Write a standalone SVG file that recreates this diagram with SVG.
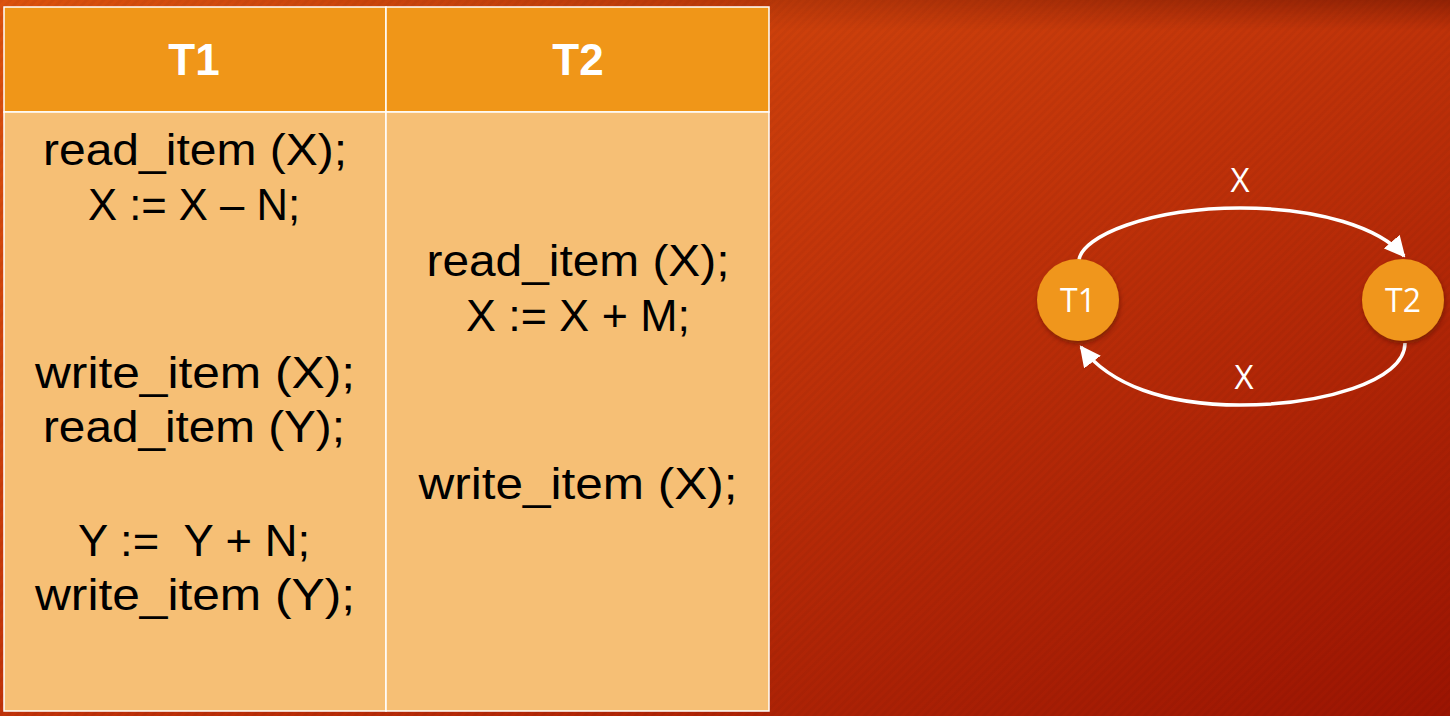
<svg xmlns="http://www.w3.org/2000/svg" width="1450" height="716" viewBox="0 0 1450 716">
  <defs>
    <linearGradient id="bg" x1="0" y1="0" x2="1" y2="1">
      <stop offset="0" stop-color="#dc520e"/>
      <stop offset="0.45" stop-color="#c4360a"/>
      <stop offset="1" stop-color="#9c1402"/>
    </linearGradient>
    <linearGradient id="topShade" x1="0" y1="0" x2="0" y2="1">
      <stop offset="0" stop-color="#5a0e00" stop-opacity="0.45"/>
      <stop offset="1" stop-color="#5a0e00" stop-opacity="0"/>
    </linearGradient>
    <linearGradient id="topShadeX" x1="0" y1="0" x2="1" y2="0">
      <stop offset="0" stop-color="#fff" stop-opacity="0"/>
      <stop offset="0.6" stop-color="#fff" stop-opacity="0.5"/>
      <stop offset="1" stop-color="#fff" stop-opacity="1"/>
    </linearGradient>
    <mask id="shadeMask">
      <rect x="0" y="0" width="1450" height="30" fill="url(#topShadeX)"/>
    </mask>
    <pattern id="stripes" width="6" height="6" patternUnits="userSpaceOnUse" patternTransform="rotate(-45)">
      <rect width="6" height="3" fill="#000" fill-opacity="0.03"/>
    </pattern>
    <marker id="arrow" viewBox="0 0 10 10" refX="9" refY="5" markerWidth="6" markerHeight="6" orient="auto" markerUnits="strokeWidth">
      <path d="M0,0 L10,5 L0,10 z" fill="#ffffff"/>
    </marker>
    <filter id="shadow" x="-30%" y="-30%" width="160%" height="160%">
      <feDropShadow dx="1" dy="3" stdDeviation="2.5" flood-color="#4a0800" flood-opacity="0.5"/>
    </filter>
    <style>
      .cell-head { fill: #f09618; stroke: #ffffff; stroke-width: 1.5; }
      .cell-body { fill: #f6bf75; stroke: #ffffff; stroke-width: 1.5; }
      .head { font-family: "Liberation Sans Narrow", "Liberation Sans", Arial, sans-serif; font-weight: bold; font-size: 44px; fill: #ffffff; text-anchor: middle; }
      .code { font-family: "Liberation Sans", Arial, sans-serif; font-size: 45px; fill: #000000; text-anchor: middle; }
      .node circle { fill: #f0961a; }
      .node text { font-family: "Open Sans", "Liberation Sans", sans-serif; font-size: 32px; fill: #ffffff; text-anchor: middle; }
      .edge { fill: none; stroke: #ffffff; stroke-width: 3.5; marker-end: url(#arrow); }
      .edge-label { font-family: "Open Sans", "Liberation Sans", sans-serif; font-size: 33px; fill: #ffffff; text-anchor: middle; }
    </style>
  </defs>

  <!-- background -->
  <rect x="0" y="0" width="1450" height="716" fill="url(#bg)"/>
  <rect x="0" y="0" width="1450" height="716" fill="url(#stripes)"/>
  <rect x="0" y="0" width="1450" height="30" fill="url(#topShade)" mask="url(#shadeMask)"/>

  <!-- schedule table -->
  <g id="table">
    <rect class="cell-head" x="4" y="7" width="382" height="105"/>
    <rect class="cell-head" x="386" y="7" width="383" height="105"/>
    <rect class="cell-body" x="4" y="112" width="382" height="599"/>
    <rect class="cell-body" x="386" y="112" width="383" height="599"/>
    <text class="head" x="194" y="75">T1</text>
    <text class="head" x="578" y="75">T2</text>

    <g id="t1-ops">
      <text class="code" x="195" y="165" textLength="304" lengthAdjust="spacingAndGlyphs">read_item (X);</text>
      <text class="code" x="194" y="220" textLength="212" lengthAdjust="spacingAndGlyphs">X := X – N;</text>
      <text class="code" x="195" y="388" textLength="320" lengthAdjust="spacingAndGlyphs">write_item (X);</text>
      <text class="code" x="194" y="442" textLength="302" lengthAdjust="spacingAndGlyphs">read_item (Y);</text>
      <text class="code" x="194" y="556" textLength="232" lengthAdjust="spacingAndGlyphs" xml:space="preserve">Y :=  Y + N;</text>
      <text class="code" x="195" y="610" textLength="320" lengthAdjust="spacingAndGlyphs">write_item (Y);</text>
    </g>
    <g id="t2-ops">
      <text class="code" x="578" y="276" textLength="303" lengthAdjust="spacingAndGlyphs">read_item (X);</text>
      <text class="code" x="578" y="331" textLength="224" lengthAdjust="spacingAndGlyphs">X := X + M;</text>
      <text class="code" x="578" y="499" textLength="319" lengthAdjust="spacingAndGlyphs">write_item (X);</text>
    </g>
  </g>

  <!-- precedence graph edges -->
  <g id="edges">
    <path class="edge" d="M1079,260 C1082,236 1150,208 1240,208 C1320,208 1380,228 1404,256"/>
    <path class="edge" d="M1405,343 C1405,382 1320,405 1240,405 C1165,405 1110,385 1081,347"/>
    <text class="edge-label" x="1240" y="192">X</text>
    <text class="edge-label" x="1244" y="389">X</text>
  </g>

  <!-- precedence graph nodes -->
  <g id="node-t1" class="node">
    <circle cx="1078" cy="300" r="41" filter="url(#shadow)"/>
    <text x="1078" y="312">T1</text>
  </g>
  <g id="node-t2" class="node">
    <circle cx="1403" cy="300" r="41" filter="url(#shadow)"/>
    <text x="1403" y="312">T2</text>
  </g>
</svg>
